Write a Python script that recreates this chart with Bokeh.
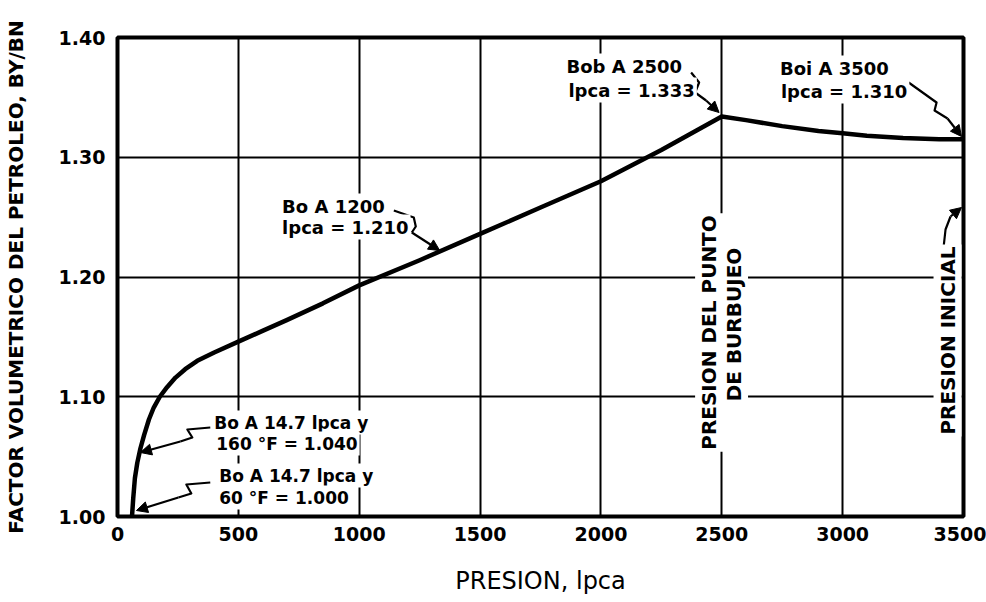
import math
from bokeh.plotting import figure
from bokeh.models import Label, Arrow, NormalHead, Range1d
from bokeh.embed import file_html
from bokeh.resources import INLINE

# ---- data ----
pressure = [60, 65, 72, 82, 95, 110, 130, 150, 175, 205, 240, 280, 330, 400, 500, 600, 700, 850,
            1000, 1250, 1500, 1750, 2000, 2250, 2500, 2600, 2750, 2900, 3000, 3100, 3250, 3400, 3500]
bo = [1.000, 1.015, 1.032, 1.045, 1.057, 1.068, 1.081, 1.091, 1.100, 1.108, 1.116, 1.123, 1.130,
      1.137, 1.146, 1.155, 1.164, 1.178, 1.193, 1.214, 1.236, 1.258, 1.280, 1.306, 1.334, 1.331,
      1.326, 1.322, 1.320, 1.318, 1.316, 1.315, 1.315]

x_ticks = [0, 500, 1000, 1500, 2000, 2500, 3000, 3500]
x_tick_labels = ["0", "500", "1000", "1500", "2000", "2500", "3000", "3500"]
y_ticks = [1.00, 1.10, 1.20, 1.30, 1.40]
y_tick_labels = ["1.00", "1.10", "1.20", "1.30", "1.40"]
x_grid = [500, 1000, 1500, 2000, 2500, 3000]
y_grid = [1.10, 1.20, 1.30]

x_title = "PRESION, lpca"
y_title = "FACTOR VOLUMETRICO DEL PETROLEO, BY/BN"

# ---- layout ----
W, H = 986, 602
BL, BR, BT, BB = 115, 23, 37, 86
FW, FH = W - BL - BR, H - BT - BB
X0, X1, Y0, Y1 = 0, 3500, 1.00, 1.40


def FX(px):
    return X0 + (px - BL) / FW * (X1 - X0)


def FY(py):
    return Y1 - (py - BT) / FH * (Y1 - Y0)


FONT = "DejaVu Sans"

p = figure(width=W, height=H, x_range=Range1d(X0, X1), y_range=Range1d(Y0, Y1),
           output_backend="svg", toolbar_location=None,
           min_border_left=BL, min_border_right=BR, min_border_top=BT, min_border_bottom=BB)
p.background_fill_color = "white"
p.border_fill_color = "white"
p.outline_line_color = "black"
p.outline_line_width = 4

p.xgrid.ticker = x_grid
p.ygrid.ticker = y_grid
for g in (p.xgrid, p.ygrid):
    g.grid_line_color = "black"
    g.grid_line_width = 2

for ax in (p.xaxis, p.yaxis):
    ax.axis_line_color = None
    ax.major_tick_line_color = None
    ax.minor_tick_line_color = None
    ax.major_label_text_font = FONT
    ax.major_label_text_font_style = "bold"
    ax.major_label_text_font_size = "19px"
    ax.major_label_text_color = "black"
    ax.axis_label_text_color = "black"

p.xaxis.ticker = x_ticks
p.xaxis.major_label_overrides = {t: l for t, l in zip(x_ticks, x_tick_labels)}
p.yaxis.ticker = y_ticks
p.yaxis.major_label_overrides = {t: l for t, l in zip(y_ticks, y_tick_labels)}
p.xaxis.major_label_standoff = 4
p.yaxis.major_label_standoff = 6

p.xaxis.axis_label = x_title
p.xaxis.axis_label_text_font = FONT
p.xaxis.axis_label_text_font_style = "normal"
p.xaxis.axis_label_text_font_size = "24px"
p.xaxis.axis_label_standoff = 23

p.yaxis.axis_label = y_title
p.yaxis.axis_label_text_font = FONT
p.yaxis.axis_label_text_font_style = "bold"
p.yaxis.axis_label_text_font_size = "20px"
p.yaxis.axis_label_standoff = 28

# ---- curve ----
p.line(pressure, bo, line_color="black", line_width=4.5, line_join="round", line_cap="round")


# ---- annotations ----
def label(px, py, text, size="18px", angle=0.0, align="left", baseline="top", bg=True):
    lab = Label(x=FX(px), y=FY(py), text=text, text_font=FONT, text_font_style="bold",
                text_font_size=size, text_color="black", text_align=align,
                text_baseline=baseline, angle=angle, padding=2)
    if bg:
        lab.background_fill_color = "white"
    p.add_layout(lab)


def arrow(path):
    xs = [FX(a) for a, b in path]
    ys = [FY(b) for a, b in path]
    p.line(xs[:-1], ys[:-1], line_color="black", line_width=2.2, line_join="round")
    p.add_layout(Arrow(end=NormalHead(size=11, fill_color="black", line_color="black"),
                       x_start=xs[-2], y_start=ys[-2], x_end=xs[-1], y_end=ys[-1],
                       line_color="black", line_width=2.2))


label(563, 53, "Bob A 2500")
label(565, 77, "lpca = 1.333")
arrow([(690, 72), (698, 82), (694, 92), (705, 100), (718, 112)])

label(777, 55, "Boi A 3500")
label(778, 78, "lpca = 1.310")
arrow([(908, 82), (936, 102), (934, 110), (947, 118), (961, 136)])

label(278, 193, "Bo A 1200")
label(278, 214, "lpca = 1.210")
arrow([(392, 210), (412, 217), (414, 226), (410, 232), (438, 250)])

label(210, 410, "Bo A 14.7 lpca y", size="17px")
label(212, 431, "160 °F = 1.040", size="17px")
arrow([(208, 427), (185, 429), (190, 437), (178, 441), (138, 452)])

label(215, 463, "Bo A 14.7 lpca y", size="17px")
label(215, 485, "60 °F = 1.000", size="17px")
arrow([(208, 482), (184, 484), (189, 493), (176, 497), (134, 510)])

label(708, 332, "PRESION DEL PUNTO", size="20px", angle=math.pi / 2, align="center", baseline="middle")
label(733, 324, "DE BURBUJEO", size="20px", angle=math.pi / 2, align="center", baseline="middle")
label(947, 340, "PRESION INICIAL", size="20px", angle=math.pi / 2, align="center", baseline="middle")
arrow([(943, 247), (945, 229), (950, 216), (961, 207)])

open("out.html", "w").write(file_html(p, INLINE))
